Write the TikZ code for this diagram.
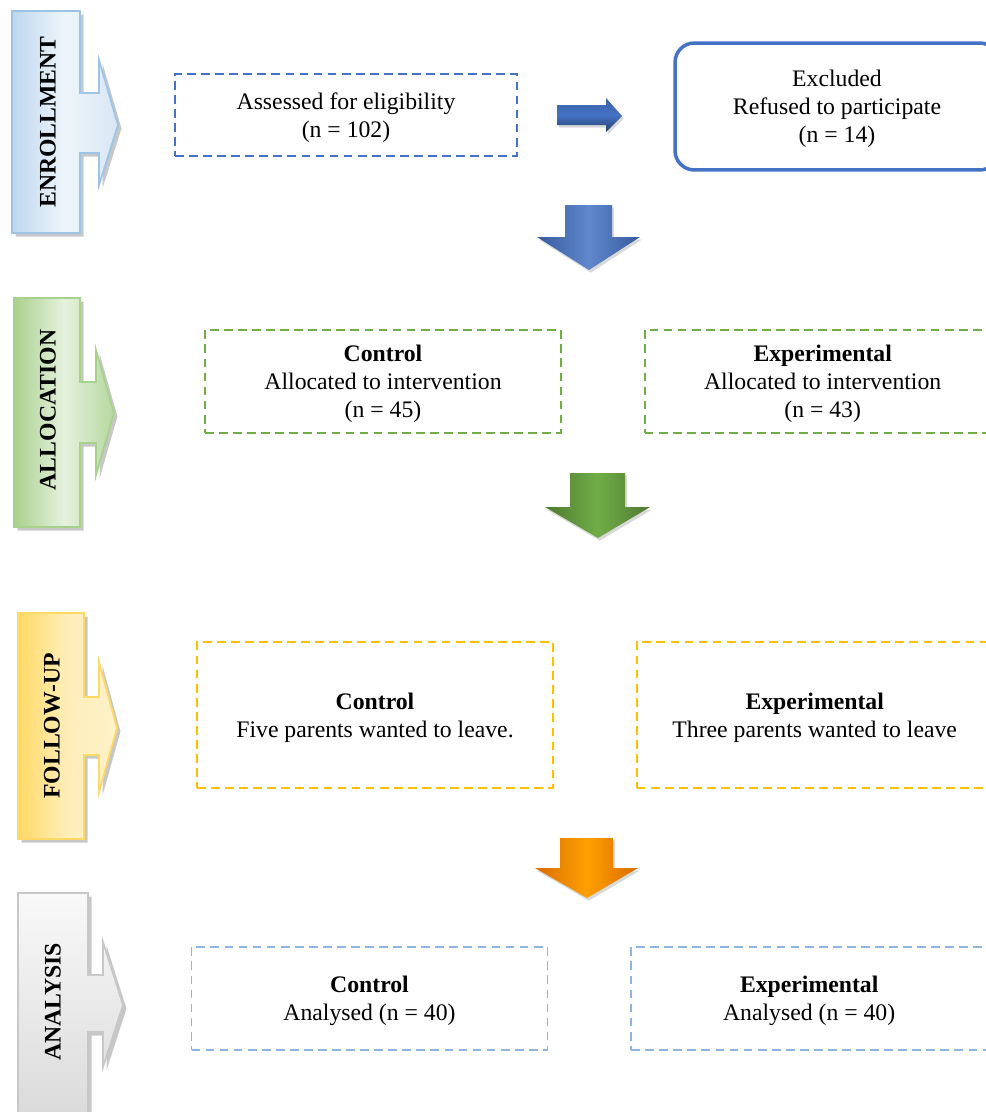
\documentclass[tikz,border=0pt]{standalone}
\usepackage{fontspec}
\setmainfont{Liberation Serif}
\usepackage{xcolor}
\usepackage{tikz}
\usetikzlibrary{positioning, shadows}

\definecolor{enrollblue}{HTML}{4472C4}
\definecolor{enrolledge}{HTML}{9DC3E6}
\definecolor{enrollfill}{HTML}{BDD7EE}
\definecolor{allocgreen}{HTML}{70AD47}
\definecolor{allocedge}{HTML}{A9D18E}
\definecolor{followyellow}{HTML}{FFC000}
\definecolor{followedge}{HTML}{FFD966}
\definecolor{analysisblue}{HTML}{8EB4E3}
\definecolor{analysisedge}{HTML}{C8C8C8}

\begin{document}
\begin{tikzpicture}[x=0.02cm, y=-0.02cm, font=\fontsize{13.5}{16}\selectfont]
\tikzstyle{groupbox} = [rectangle, draw, dash pattern=on 5pt off 3pt, line width=1pt, minimum width=7.12cm, align=center, inner sep=0pt, text depth=-1.6pt]
\tikzstyle{phaseshape} = [line width=1pt, drop shadow={shadow xshift=2pt, shadow yshift=-2pt, fill=black!40, opacity=0.55}]
\tikzstyle{phasetext} = [rotate=90, font=\fontsize{13.5}{16}\selectfont\bfseries]
\tikzstyle{blockarrow} = [drop shadow={shadow xshift=1pt, shadow yshift=-1.5pt, fill=black!30, opacity=0.5}]

\useasboundingbox (0,0) rectangle (986,1112);
\clip (0,0) rectangle (986,1112);

% phase arrows on the left
\path[phaseshape, draw=enrolledge, left color=enrollfill, right color=enrollfill!60, middle color=enrollfill!25]
  (12,11) -- (80,11) -- (80,93) -- (99,93) -- (99,60) -- (118,125) -- (99,185) -- (99,153) -- (80,153) -- (80,233) -- (12,233) -- cycle;
\path[phaseshape, draw=allocedge, left color=allocedge, right color=allocedge!85, middle color=allocedge!30]
  (14,298) -- (80,298) -- (80,382) -- (96,382) -- (96,350) -- (114,413) -- (96,475) -- (96,443) -- (80,443) -- (80,527) -- (14,527) -- cycle;
\path[phaseshape, draw=followedge, left color=followedge, right color=followedge!35, middle color=followedge!45]
  (18,613) -- (84,613) -- (84,697) -- (99,697) -- (99,662) -- (117,728) -- (99,792) -- (99,755) -- (84,755) -- (84,839) -- (18,839) -- cycle;
\path[phaseshape, draw=analysisedge, top color=gray!5, bottom color=gray!30]
  (18,893) -- (88,893) -- (88,975) -- (103,975) -- (103,942) -- (123,1005) -- (103,1067) -- (103,1032) -- (88,1032) -- (88,1130) -- (18,1130) -- cycle;

\node (enroll) [phasetext] at (48,122) {ENROLLMENT};
\node (alloc) [phasetext] at (48,410) {ALLOCATION};
\node (follow) [phasetext] at (52,726) {FOLLOW-UP};
\node (analysis) [phasetext] at (53,1002) {ANALYSIS};

% enrollment row
\node (assess) [groupbox, draw=enrollblue, minimum width=6.84cm, minimum height=1.64cm] at (346,115) {Assessed for eligibility\\(n = 102)};
\node (excluded) [rectangle, rounded corners=11pt, draw=enrollblue, line width=2pt, minimum width=6.48cm, minimum height=2.54cm, align=center, text depth=-1.6pt] at (837,106.5) {Excluded\\Refused to participate\\(n = 14)};

% allocation row
\node (allocctrl) [groupbox, draw=allocgreen, minimum height=2.06cm] at (383,381.5) {\textbf{Control}\\Allocated to intervention\\(n = 45)};
\node (allocexp) [groupbox, draw=allocgreen, minimum height=2.06cm, right=1.64cm of allocctrl] {\textbf{Experimental}\\Allocated to intervention\\(n = 43)};

% follow-up row
\node (followctrl) [groupbox, draw=followyellow, minimum height=2.92cm] at (375,715) {\textbf{Control}\\Five parents wanted to leave.};
\node (followexp) [groupbox, draw=followyellow, minimum height=2.92cm, right=1.64cm of followctrl] {\textbf{Experimental}\\Three parents wanted to leave};

% analysis row
\node (analysisctrl) [groupbox, draw=analysisblue, minimum height=2.06cm] at (369.5,998.5) {\textbf{Control}\\Analysed (n = 40)};
\node (analysisexp) [groupbox, draw=analysisblue, minimum height=2.06cm, right=1.64cm of analysisctrl] {\textbf{Experimental}\\Analysed (n = 40)};

% block arrows
\path[blockarrow, top color=enrollblue!85!black, bottom color=enrollblue!55!black, middle color=enrollblue]
  (557,105) -- (606,105) -- (606,98) -- (622,116) -- (606,132) -- (606,125) -- (557,125) -- cycle;
\path[blockarrow, left color=enrollblue!80!black, right color=enrollblue!80!black, middle color=enrollblue!85!white]
  (565,205) -- (612,205) -- (612,237) -- (640,237) -- (589,270) -- (537,237) -- (565,237) -- cycle;
\path[blockarrow, left color=allocgreen!70!black, right color=allocgreen!70!black, middle color=allocgreen]
  (570,473) -- (625,473) -- (625,507) -- (650,507) -- (598,538) -- (545,507) -- (570,507) -- cycle;
\path[blockarrow, left color=orange!85!black, right color=orange!85!black, middle color=orange!75!yellow]
  (560,838) -- (613,838) -- (613,868) -- (638,868) -- (587,898) -- (535,868) -- (560,868) -- cycle;

\end{tikzpicture}
\end{document}
